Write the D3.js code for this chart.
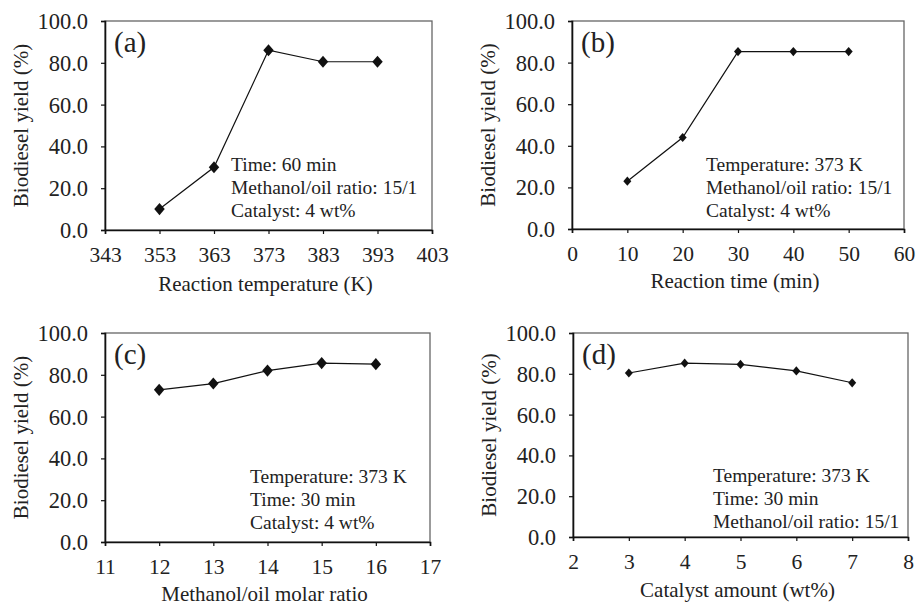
<!DOCTYPE html>
<html>
<head>
<meta charset="utf-8">
<script src="https://cdn.jsdelivr.net/npm/d3@7"></script>
<style>
  body { margin: 0; background: #fff; }
</style>
</head>
<body>
<div id="chart"></div>
<script>
// panel (a): reaction temperature
const tempX = [353, 363, 373, 383, 393]
const tempY = [10.0, 30.0, 86.0, 80.5, 80.5]
const tempTicks = [343, 353, 363, 373, 383, 393, 403]

// panel (b): reaction time
const timeX = [10, 20, 30, 40, 50]
const timeY = [23.0, 44.0, 85.3, 85.3, 85.3]
const timeTicks = [0, 10, 20, 30, 40, 50, 60]

// panel (c): methanol/oil molar ratio
const ratioX = [12, 13, 14, 15, 16]
const ratioY = [72.8, 75.8, 82.0, 85.6, 85.1]
const ratioTicks = [11, 12, 13, 14, 15, 16, 17]

// panel (d): catalyst amount
const catX = [3, 4, 5, 6, 7]
const catY = [80.4, 85.2, 84.6, 81.4, 75.6]
const catTicks = [2, 3, 4, 5, 6, 7, 8]

const yTicks = [0, 20, 40, 60, 80, 100]

const width = 917
const height = 606
const serif = "'Liberation Serif', 'Times New Roman', serif"

const svg = d3.select("#chart")
    .append("svg")
    .attr("width", width)
    .attr("height", height)

const diamond = {
    draw(ctx, size) {
        const w = Math.sqrt(size) / 2
        const h = w * 1.15
        ctx.moveTo(0, -h)
        ctx.lineTo(w, 0)
        ctx.lineTo(0, h)
        ctx.lineTo(-w, 0)
        ctx.closePath()
    }
}

function txt(sel, size) {
    return sel.style("font-family", serif).style("font-size", size + "px").style("fill", "#222")
}

function panel(opt) {
    const { box, xs, ys, xTicks, tag, xTitle, notes, markSize } = opt
    const g = svg.append("g")

    const x = d3.scaleLinear()
        .domain(d3.extent(xTicks))
        .range([box.left, box.right])

    const y = d3.scaleLinear()
        .domain([0, 100])
        .range([box.bottom, box.top])

    // plot frame (top/right lighter)
    g.append("rect")
        .attr("x", box.left)
        .attr("y", box.top)
        .attr("width", box.right - box.left)
        .attr("height", box.bottom - box.top)
        .attr("fill", "none")
        .attr("stroke", "#666")
        .attr("stroke-width", 1.3)

    const xAxis = g.append("g")
        .attr("transform", `translate(0,${box.bottom})`)
        .call(d3.axisBottom(x).tickValues(xTicks).tickSize(4).tickPadding(10).tickFormat(d3.format("d")))
    const yAxis = g.append("g")
        .attr("transform", `translate(${box.left},0)`)
        .call(d3.axisLeft(y).tickValues(yTicks).tickSize(4).tickPadding(13).tickFormat(d3.format(".1f")))

    for (const ax of [xAxis, yAxis]) {
        ax.select(".domain").attr("stroke", "#111").attr("stroke-width", 1.6)
        ax.selectAll(".tick line").attr("stroke", "#111").attr("stroke-width", 1.2)
    }
    txt(xAxis.selectAll(".tick text"), 21.5).attr("dy", "0.85em")
    txt(yAxis.selectAll(".tick text"), 22.5).attr("dy", "0.33em")

    const pts = xs.map((v, i) => [v, ys[i]])

    g.append("path")
        .datum(pts)
        .attr("fill", "none")
        .attr("stroke", "#111")
        .attr("stroke-width", 1.2)
        .attr("d", d3.line().x(d => x(d[0])).y(d => y(d[1])))

    g.selectAll(".mark")
        .data(pts)
        .enter()
        .append("path")
        .attr("transform", d => `translate(${x(d[0])},${y(d[1])})`)
        .attr("d", d3.symbol(diamond, markSize)())
        .attr("fill", "#111")

    txt(g.append("text"), 29)
        .attr("x", box.left + 9)
        .attr("y", box.top + 31)
        .text(tag)

    txt(g.append("text"), 21)
        .attr("x", (box.left + box.right) / 2 - 3)
        .attr("y", box.bottom + opt.titleDy)
        .attr("text-anchor", "middle")
        .text(xTitle)

    txt(g.append("text"), 21)
        .attr("transform", `translate(${box.left - 77},${(box.top + box.bottom) / 2}) rotate(-90)`)
        .attr("text-anchor", "middle")
        .text("Biodiesel yield (%)")

    txt(g.selectAll(".note")
        .data(notes)
        .enter()
        .append("text"), 19.5)
        .attr("x", box.left + opt.noteDx)
        .attr("y", (d, i) => opt.noteY + i * 23)
        .text(d => d)
}

panel({
    box: { left: 105, right: 432, top: 21, bottom: 230 },
    xs: tempX, ys: tempY, xTicks: tempTicks, tag: "(a)",
    xTitle: "Reaction temperature (K)", titleDy: 61,
    notes: ["Time: 60 min", "Methanol/oil ratio: 15/1", "Catalyst: 4 wt%"],
    noteDx: 126, noteY: 171, markSize: 110
})

panel({
    box: { left: 572, right: 904, top: 21, bottom: 229 },
    xs: timeX, ys: timeY, xTicks: timeTicks, tag: "(b)",
    xTitle: "Reaction time (min)", titleDy: 59,
    notes: ["Temperature: 373 K", "Methanol/oil ratio: 15/1", "Catalyst: 4 wt%"],
    noteDx: 134, noteY: 171, markSize: 64
})

panel({
    box: { left: 105, right: 430, top: 333, bottom: 542 },
    xs: ratioX, ys: ratioY, xTicks: ratioTicks, tag: "(c)",
    xTitle: "Methanol/oil molar ratio", titleDy: 59,
    notes: ["Temperature: 373 K", "Time: 30 min", "Catalyst: 4 wt%"],
    noteDx: 145, noteY: 483, markSize: 110
})

panel({
    box: { left: 573, right: 908, top: 333, bottom: 537 },
    xs: catX, ys: catY, xTicks: catTicks, tag: "(d)",
    xTitle: "Catalyst amount (wt%)", titleDy: 60,
    notes: ["Temperature: 373 K", "Time: 30 min", "Methanol/oil ratio: 15/1"],
    noteDx: 140, noteY: 482, markSize: 64
})
</script>
</body>
</html>
